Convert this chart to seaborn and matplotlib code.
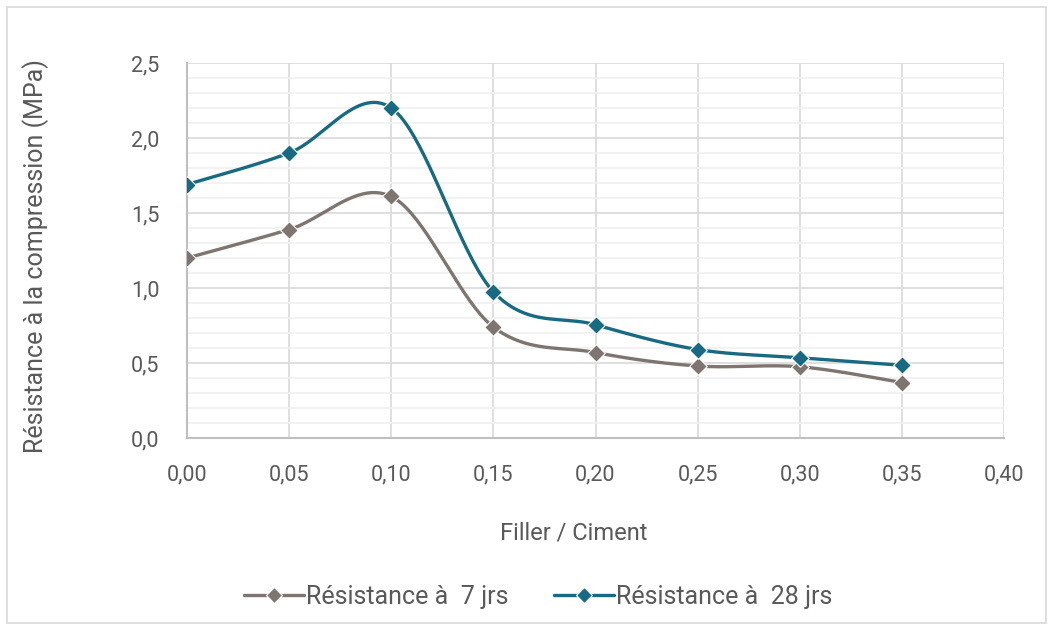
import numpy as np
import pandas as pd
import matplotlib
matplotlib.use("Agg")
import matplotlib.pyplot as plt
import seaborn as sns
from matplotlib.ticker import MultipleLocator, FuncFormatter
from matplotlib.lines import Line2D
from matplotlib.patches import Rectangle

# ---- data ----
ratio = [0.00, 0.05, 0.10, 0.15, 0.20, 0.25, 0.30, 0.35]
res_7 = [1.20, 1.39, 1.61, 0.74, 0.57, 0.48, 0.475, 0.37]
res_28 = [1.69, 1.90, 2.20, 0.975, 0.755, 0.59, 0.535, 0.485]
series_names = ["Résistance à  7 jrs", "Résistance à  28 jrs"]
colors = ["#7E7470", "#176A82"]
x_label = "Filler / Ciment"
y_label = "Résistance à la compression (MPa)"

sns.set_theme(style="white")
plt.rcParams['font.family'] = ['Roboto', 'DejaVu Sans']
txt = "#595959"


def smooth(x, y, n=40):
    # Excel-like smoothed line (Catmull-Rom Bezier)
    x = np.asarray(x, float); y = np.asarray(y, float)
    P = np.column_stack([x, y])
    pts = []
    for i in range(len(P) - 1):
        p0 = P[i - 1] if i > 0 else P[i]
        p1 = P[i]; p2 = P[i + 1]
        p3 = P[i + 2] if i + 2 < len(P) else P[i + 1]
        c1 = p1 + (p2 - p0) / 6.0
        c2 = p2 - (p3 - p1) / 6.0
        t = np.linspace(0, 1, n, endpoint=(i == len(P) - 2))[:, None]
        b = (1 - t) ** 3 * p1 + 3 * (1 - t) ** 2 * t * c1 + 3 * (1 - t) * t ** 2 * c2 + t ** 3 * p2
        pts.append(b)
    pts = np.vstack(pts)
    return pts[:, 0], pts[:, 1]


fig = plt.figure(figsize=(10.54, 6.3), dpi=100)
ax = fig.add_axes([187 / 1054, 1 - 438 / 630, (1004 - 187) / 1054, (438 - 63) / 630])

for name, vals, c in zip(series_names, [res_7, res_28], colors):
    sx, sy = smooth(ratio, vals)
    sns.lineplot(x=sx, y=sy, ax=ax, color=c, lw=2.4, sort=False, estimator=None, zorder=3)
    sns.scatterplot(x=ratio, y=vals, ax=ax, color=c, marker="D", s=80,
                    edgecolor="white", linewidth=0.8, zorder=4)

ax.set_xlim(0, 0.40)
ax.set_ylim(0, 2.5)
ax.xaxis.set_major_locator(MultipleLocator(0.05))
ax.yaxis.set_major_locator(MultipleLocator(0.5))
ax.yaxis.set_minor_locator(MultipleLocator(0.1))
ax.xaxis.set_major_formatter(FuncFormatter(lambda v, p: f"{v:.2f}".replace(".", ",")))
ax.yaxis.set_major_formatter(FuncFormatter(lambda v, p: f"{v:.1f}".replace(".", ",")))
ax.grid(which="major", color="#D9D9D9", lw=1.2)
ax.grid(which="minor", axis="y", color="#F0F0F0", lw=1.2)
ax.set_axisbelow(True)
for s in ["top", "right"]:
    ax.spines[s].set_visible(False)
for s in ["left", "bottom"]:
    ax.spines[s].set_color("#BFBFBF")
    ax.spines[s].set_linewidth(1.5)
ax.tick_params(axis="both", which="both", length=0, labelsize=15.5, colors=txt)
ax.tick_params(axis="x", pad=19)
ax.tick_params(axis="y", pad=20)
ax.set_xlabel(x_label, fontsize=17, color=txt)
ax.set_ylabel(y_label, fontsize=18, color=txt)
ax.xaxis.set_label_coords((574 - 187) / 817, (438 - 533) / 375)
ax.yaxis.set_label_coords((36 - 187) / 817, (438 - 256) / 375)
ax.xaxis.label.set_va("center")
ax.yaxis.label.set_va("center")

handles = [Line2D([0], [0], color=c, lw=2.4, marker="D", markersize=8,
                  markeredgecolor="white", markeredgewidth=0.8) for c in colors]
fig.legend(handles, series_names, loc="center", bbox_to_anchor=(538 / 1054, 1 - 597 / 630),
           ncol=2, frameon=False, fontsize=18, labelcolor=txt, handlelength=2.4,
           handletextpad=0.1, columnspacing=1.8)

fig.patches.append(Rectangle((7 / 1054, 7 / 630), 1039 / 1054, 616 / 630, transform=fig.transFigure,
                             fill=False, edgecolor="#D9D9D9", lw=1.2))

fig.savefig("out.png", dpi=100, facecolor="white")
